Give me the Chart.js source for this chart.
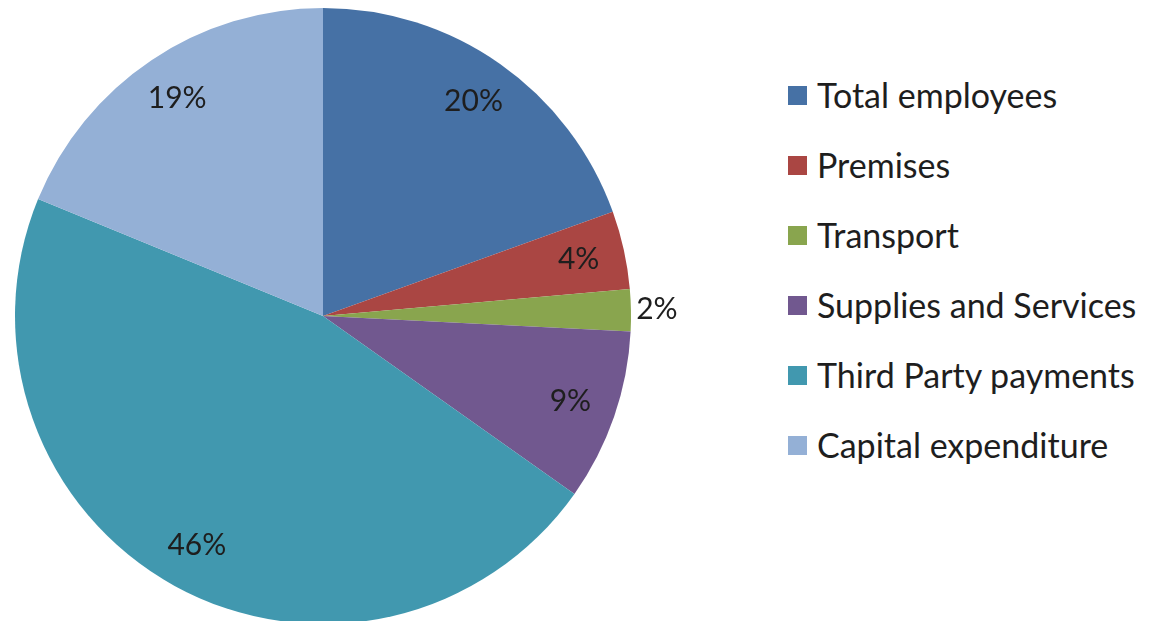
<!DOCTYPE html>
<html>
<head>
<meta charset="utf-8">
<script src="https://cdn.jsdelivr.net/npm/chart.js@4"></script>
<style>
  html, body { margin: 0; padding: 0; background: #fff; overflow: hidden; width: 1151px; height: 621px; }
  #pie { position: absolute; left: 0; top: 0; }
  #legend { position: absolute; left: 788px; top: 77px; font-family: Lato, "Open Sans", sans-serif; font-size: 34px; color: #1e1e1e; }
  .item { position: absolute; left: 0; white-space: nowrap; height: 36px; }
  .box { position: absolute; left: 0; top: 9px; width: 19px; height: 19px; }
  .txt { position: absolute; left: 29px; top: 0; line-height: 36px; }
</style>
</head>
<body>
<canvas id="pie" width="700" height="632"></canvas>
<div id="legend"></div>
<script>
// Spending split (percent of total)
const categories = ['Total employees', 'Premises', 'Transport', 'Supplies and Services', 'Third Party payments', 'Capital expenditure'];
const shares = [19.5, 4.1, 2.2, 9.0, 46.4, 18.8];
const colours = ['#4671A5', '#AA4643', '#89A54E', '#71588F', '#4198AF', '#94B0D6'];

// Draw the % labels on each slice (small slices go outside)
const pctLabels = {
  id: 'pctLabels',
  afterDatasetsDraw(chart) {
    const ctx = chart.ctx;
    const meta = chart.getDatasetMeta(0);
    ctx.save();
    ctx.font = '30px Lato';
    ctx.fillStyle = '#1e1e1e';
    ctx.textAlign = 'center';
    ctx.textBaseline = 'middle';
    meta.data.forEach((arc, i) => {
      const p = arc.getProps(['x', 'y', 'startAngle', 'endAngle', 'outerRadius'], true);
      const mid = (p.startAngle + p.endAngle) / 2;
      const r = shares[i] < 3 ? p.outerRadius + 26 : p.outerRadius * 0.85;
      ctx.fillText(Math.round(shares[i]) + '%', p.x + Math.cos(mid) * r, p.y + Math.sin(mid) * r);
    });
    ctx.restore();
  }
};

new Chart(document.getElementById('pie'), {
  type: 'pie',
  data: {
    labels: categories,
    datasets: [{
      data: shares,
      backgroundColor: colours,
      borderWidth: 0
    }]
  },
  options: {
    responsive: false,
    animation: false,
    devicePixelRatio: 1,
    layout: { padding: { left: 15, top: 8, right: 69, bottom: 8 } },
    plugins: {
      legend: { display: false },
      tooltip: { enabled: false }
    }
  },
  plugins: [pctLabels]
});

// Legend on the right
const legend = document.getElementById('legend');
categories.forEach((name, i) => {
  const item = document.createElement('div');
  item.className = 'item';
  item.style.top = (i * 70) + 'px';
  item.innerHTML = '<span class="box" style="background:' + colours[i] + '"></span><span class="txt">' + name + '</span>';
  legend.appendChild(item);
});
</script>
</body>
</html>
